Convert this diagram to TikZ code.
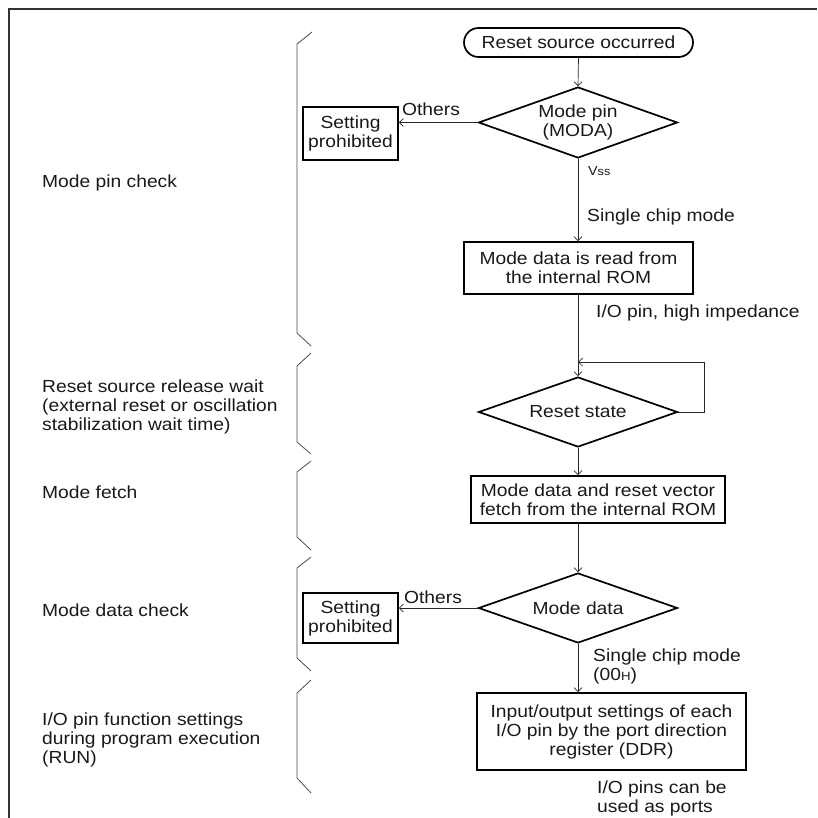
\documentclass[tikz,border=0pt]{standalone}
\usepackage{fontspec}
\setmainfont{Liberation Sans}[FakeStretch=1.1]
\usetikzlibrary{shapes.geometric,shapes.misc,arrows.meta}
\begin{document}
\begin{tikzpicture}[x=1pt,y=-1pt,
  every node/.style={font=\fontsize{17.5}{19}\selectfont, text=black!90},
  box/.style={draw, line width=1.7pt, inner sep=0pt, align=center},
  dec/.style={draw, shape=diamond, aspect=2.8, line width=1.7pt, inner sep=0pt, align=center},
  conn/.style={line width=0.7pt, draw=black!85, -{Straight Barb[length=4pt,width=8pt]}},
  brace/.style={line width=0.8pt, draw=black!70},
  lbl/.style={align=left, anchor=west, inner sep=0pt},
]
\useasboundingbox (0,0) rectangle (817,818);
\draw[line width=1.4pt, black!80] (9,818) -- (9,9) -- (817,9);

% braces
\draw[brace] (312,32) -- (297,44) -- (297,333) -- (311,346);
\draw[brace] (311,353) -- (297,366) -- (297,442) -- (311,454);
\draw[brace] (311,461) -- (297,472) -- (297,537) -- (311,550);
\draw[brace] (311,557) -- (297,568) -- (297,658) -- (311,671);
\draw[brace] (311,680) -- (297,693) -- (297,778) -- (311,793);

% left labels
\node[lbl] (l1) at (42,183) {Mode pin check};
\node[lbl] (l2) at (42,407) {Reset source release wait\\(external reset or oscillation\\stabilization wait time)};
\node[lbl] (l3) at (42,492) {Mode fetch};
\node[lbl] (l4) at (42,610) {Mode data check};
\node[lbl] (l5) at (42,740) {I/O pin function settings\\during program execution\\(RUN)};

% flow
\node[box, rounded rectangle, minimum width=229pt, minimum height=29pt] (start) at (578.5,42.5) {Reset source occurred};
\node[dec, minimum width=199pt, minimum height=71pt] (d1) at (578,122.5) {Mode pin\\(MODA)};
\node[box, minimum width=95pt, minimum height=53pt] (sp1) at (350.5,133.5) {Setting\\prohibited};
\node (oth1) at (431,109) {Others};
\node[font=\fontsize{13}{13}\selectfont, anchor=west, inner sep=0pt] (vss) at (588,171) {V{\fontsize{11.5}{11.5}\selectfont ss}};
\node[lbl] (scm1) at (587,217) {Single chip mode};
\node[box, minimum width=229pt, minimum height=52pt] (b2) at (578.5,268) {Mode data is read from\\the internal ROM};
\node[lbl] (hiz) at (596,313) {I/O pin, high impedance};
\node[dec, minimum width=199pt, minimum height=70pt] (d2) at (578,412) {Reset state};
\coordinate (lc) at (704,362);
\node[box, minimum width=254pt, minimum height=47pt] (b3) at (598,499.5) {Mode data and reset vector\\fetch from the internal ROM};
\node[dec, minimum width=199pt, minimum height=70pt] (d3) at (578,608) {Mode data};
\node[box, minimum width=95pt, minimum height=50pt] (sp2) at (350.5,618) {Setting\\prohibited};
\node (oth2) at (433,597) {Others};
\node[lbl] (scm2) at (593,666) {Single chip mode\\(00{\fontsize{12}{12}\selectfont H})};
\node[box, minimum width=269pt, minimum height=77pt] (b4) at (611.5,731.5) {Input/output settings of each\\I/O pin by the port direction\\register (DDR)};
\node[lbl] (ports) at (597,798) {I/O pins can be\\used as ports};

% connectors
\draw[conn] (start.south) -- (d1.north);
\draw[conn] (d1.west) -- (d1.west -| sp1.east);
\draw[conn] (d1.south) -- (d1.south |- b2.north);
\draw[conn] (d1.south |- b2.south) -- (d2.north);
\draw[conn] (d2.east) -| (lc) -- (lc -| d2.north);
\draw[conn] (d2.south) -- (d2.south |- b3.north);
\draw[conn] (d2.south |- b3.south) -- (d3.north);
\draw[conn] (d3.west) -- (d3.west -| sp2.east);
\draw[conn] (d3.south) -- (d3.south |- b4.north);
\end{tikzpicture}
\end{document}
